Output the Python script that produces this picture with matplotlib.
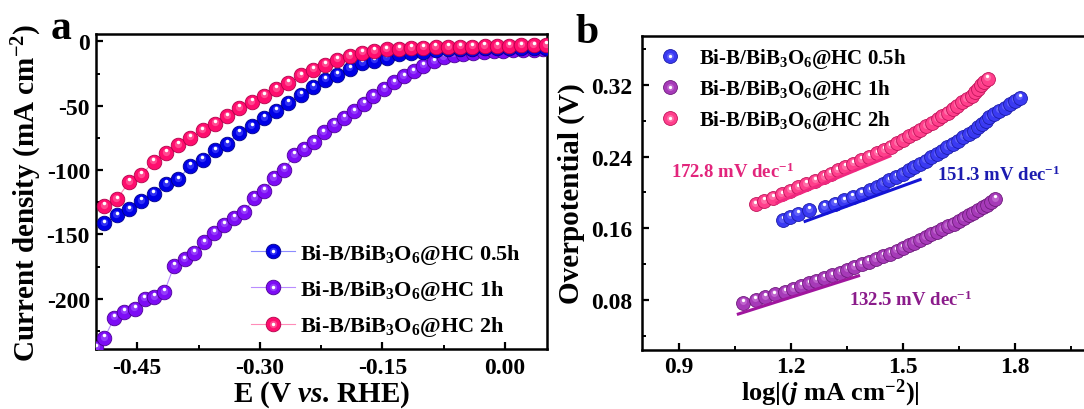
import matplotlib
matplotlib.use("Agg")
import matplotlib.pyplot as plt
from matplotlib.lines import Line2D
from matplotlib.transforms import offset_copy
from matplotlib.ticker import MultipleLocator, FormatStrFormatter
from matplotlib.legend_handler import HandlerTuple

plt.rcParams['font.family'] = ['Liberation Serif', 'DejaVu Serif']
plt.rcParams['font.weight'] = 'bold'
plt.rcParams['axes.unicode_minus'] = False
plt.rcParams['mathtext.fontset'] = 'custom'
plt.rcParams['mathtext.rm'] = 'Liberation Serif:bold'
plt.rcParams['mathtext.it'] = 'Liberation Serif:italic:bold'
plt.rcParams['mathtext.bf'] = 'Liberation Serif:bold'

labels = ['Bi-B/BiB$_3$O$_6$@HC 0.5h', 'Bi-B/BiB$_3$O$_6$@HC 1h', 'Bi-B/BiB$_3$O$_6$@HC 2h']

# ---- LSV (panel a) ----
E_grid = [-0.490, -0.475, -0.460, -0.445, -0.430, -0.415, -0.400, -0.385, -0.370, -0.355,
          -0.340, -0.325, -0.310, -0.295, -0.280, -0.265, -0.250, -0.235, -0.220, -0.205,
          -0.190, -0.175, -0.160, -0.145, -0.130, -0.115, -0.100, -0.085, -0.070, -0.055,
          -0.040, -0.025, -0.010, 0.005, 0.020, 0.035, 0.050]
j_05 = [-141.4, -135.2, -130.5, -124.0, -118.3, -111.0, -107.2, -96.8, -92.0, -84.7,
        -79.8, -71.3, -66.1, -59.6, -53.9, -47.9, -41.5, -35.5, -29.8, -25.9,
        -21.2, -16.8, -15.0, -13.0, -9.8, -9.0, -8.0, -7.0, -6.3, -6.0,
        -5.7, -5.5, -5.3, -5.1, -5.0, -4.9, -4.8]
j_2 = [-127.9, -122.7, -109.3, -104.0, -93.4, -86.9, -80.7, -74.7, -69.2, -64.0,
       -58.3, -51.8, -47.2, -42.2, -37.1, -32.4, -26.5, -22.0, -18.0, -14.2,
       -11.4, -8.8, -7.5, -6.3, -5.7, -5.2, -4.9, -4.6, -4.4, -4.2,
       -4.0, -3.8, -3.6, -3.4, -3.2, -3.1, -3.0]
E_1 = [-0.500, -0.490, -0.478, -0.466, -0.453, -0.441, -0.429, -0.417, -0.405, -0.392,
       -0.380, -0.368, -0.356, -0.344, -0.331, -0.319, -0.307, -0.295, -0.283, -0.270,
       -0.258, -0.246, -0.234, -0.222, -0.209, -0.197, -0.185, -0.173, -0.161, -0.148,
       -0.136, -0.124, -0.112, -0.100, -0.087, -0.075, -0.063, -0.051, -0.039, -0.026,
       -0.014, -0.002, 0.010, 0.022, 0.035, 0.047]
j_1 = [-238.0, -230.4, -214.8, -210.1, -207.8, -200.0, -198.8, -194.9, -174.6, -169.4,
       -164.2, -156.2, -148.5, -142.5, -137.3, -132.4, -121.8, -116.1, -106.2, -99.8,
       -88.4, -83.7, -78.5, -70.7, -64.8, -59.6, -54.4, -48.5, -42.8, -37.1,
       -31.9, -27.2, -23.3, -18.9, -15.5, -12.2, -10.4, -9.5, -8.8, -8.2,
       -7.7, -7.3, -7.0, -6.7, -6.4, -6.2]

# ---- Tafel (panel b) ----
logj_05 = [1.178, 1.198, 1.218, 1.248, 1.290, 1.317, 1.342, 1.365, 1.389, 1.413,
           1.431, 1.447, 1.464, 1.482, 1.500, 1.516, 1.531, 1.547, 1.561, 1.576,
           1.591, 1.605, 1.619, 1.633, 1.647, 1.662, 1.677, 1.690, 1.701, 1.712,
           1.722, 1.732, 1.744, 1.758, 1.773, 1.787, 1.800, 1.813]
eta_05 = [0.1690, 0.1727, 0.1764, 0.1801, 0.1838, 0.1875, 0.1912, 0.1949, 0.1986, 0.2023,
          0.2060, 0.2097, 0.2134, 0.2171, 0.2208, 0.2245, 0.2282, 0.2319, 0.2356, 0.2393,
          0.2430, 0.2467, 0.2504, 0.2541, 0.2578, 0.2615, 0.2652, 0.2689, 0.2726, 0.2763,
          0.2800, 0.2837, 0.2874, 0.2911, 0.2948, 0.2985, 0.3022, 0.3059]
logj_1 = [1.072, 1.105, 1.130, 1.156, 1.185, 1.206, 1.227, 1.248, 1.268, 1.289,
          1.310, 1.331, 1.350, 1.369, 1.389, 1.408, 1.427, 1.447, 1.466, 1.483,
          1.499, 1.515, 1.531, 1.545, 1.561, 1.575, 1.590, 1.606, 1.620, 1.636,
          1.650, 1.663, 1.677, 1.689, 1.702, 1.714, 1.725, 1.737, 1.748]
eta_1 = [0.0770, 0.0800, 0.0831, 0.0861, 0.0892, 0.0922, 0.0952, 0.0983, 0.1013, 0.1044,
         0.1074, 0.1104, 0.1135, 0.1165, 0.1196, 0.1226, 0.1256, 0.1287, 0.1317, 0.1348,
         0.1378, 0.1408, 0.1439, 0.1469, 0.1500, 0.1530, 0.1560, 0.1591, 0.1621, 0.1652,
         0.1682, 0.1712, 0.1743, 0.1773, 0.1804, 0.1834, 0.1864, 0.1895, 0.1925]
logj_2 = [1.105, 1.128, 1.151, 1.175, 1.198, 1.219, 1.241, 1.265, 1.288, 1.306,
          1.325, 1.346, 1.367, 1.388, 1.410, 1.430, 1.449, 1.467, 1.484, 1.500,
          1.516, 1.532, 1.547, 1.563, 1.578, 1.593, 1.606, 1.620, 1.633, 1.646,
          1.659, 1.671, 1.684, 1.693, 1.701, 1.709, 1.718, 1.727]
eta_2 = [0.1865, 0.1903, 0.1941, 0.1979, 0.2017, 0.2055, 0.2093, 0.2131, 0.2169, 0.2207,
         0.2245, 0.2283, 0.2321, 0.2359, 0.2397, 0.2435, 0.2473, 0.2511, 0.2549, 0.2587,
         0.2625, 0.2663, 0.2701, 0.2739, 0.2777, 0.2815, 0.2853, 0.2891, 0.2929, 0.2967,
         0.3005, 0.3043, 0.3081, 0.3119, 0.3157, 0.3195, 0.3233, 0.3271]

# Tafel slopes (mV/dec) and the log|j| window / mid overpotential of each fit
tafel_slopes = [151.3, 132.5, 172.8]
fit_windows = [(1.234, 1.550), (1.055, 1.385), (1.159, 1.469)]
fit_mid_eta = [0.191, 0.0855, 0.2145]


def spheres(ax, xs, ys, base, edge, glow, ms, z):
    # shaded ball markers: body, soft glow and a small white highlight
    fig = ax.figure
    sh1 = offset_copy(ax.transData, fig=fig, x=-0.2, y=1.0, units='points')
    sh2 = offset_copy(ax.transData, fig=fig, x=-0.1, y=2.0, units='points')
    for x, y in zip(xs, ys):
        ax.plot([x], [y], 'o', ms=ms, mfc=base, mec=edge, mew=0.6, zorder=z)
        ax.plot([x], [y], 'o', ms=ms * 0.5, mfc=glow, mec='none', alpha=0.6,
                transform=sh1, zorder=z)
        ax.plot([x], [y], 'o', ms=ms * 0.24, mfc='white', mec='none',
                transform=sh2, zorder=z)


def ball_handle(base, edge, glow, ms, line=None):
    body = Line2D([], [], color=line or 'none', lw=0.8 if line else 0,
                  marker='o', ms=ms, mfc=base, mec=edge, mew=0.6)
    mid = Line2D([], [], ls='none', marker='o', ms=ms * 0.5, mfc=glow, mec='none', alpha=0.6)
    top = Line2D([], [], ls='none', marker='o', ms=ms * 0.24, mfc='white', mec='none')
    return (body, mid, top)


def style_axes(ax):
    for s in ax.spines.values():
        s.set_linewidth(1.8)
    ax.tick_params(which='both', direction='in', top=False, right=False,
                   labelsize=17)
    ax.tick_params(which='major', length=5, width=1.6)
    ax.tick_params(which='minor', length=3, width=1.4)


fig = plt.figure(figsize=(10.84, 4.10), dpi=100)

# ---------------- panel a ----------------
ax1 = fig.add_axes([0.0881, 0.1463, 0.4163, 0.7683])
cols_a = {'05': ('#0000e6', '#00008a', '#4d4dff', '#8c8cff'),
          '1': ('#7d0cf5', '#4b0096', '#a55cff', '#b98cff'),
          '2': ('#ff0d6e', '#b3004a', '#ff6fa6', '#ff8cb8')}
ms_a = 10.5

for key, E, j in [('1', E_1, j_1), ('05', E_grid, j_05), ('2', E_grid, j_2)]:
    base, edge, glow, line = cols_a[key]
    ax1.plot(E, j, '-', color=line, lw=0.8, zorder=2)
    spheres(ax1, E, j, base, edge, glow, ms_a, 3)

ax1.set_xlim(-0.501, 0.051)
ax1.set_ylim(-239, 5.7)
ax1.xaxis.set_major_locator(MultipleLocator(0.15))
ax1.xaxis.set_minor_locator(MultipleLocator(0.075))
ax1.yaxis.set_major_locator(MultipleLocator(50))
ax1.yaxis.set_minor_locator(MultipleLocator(25))
ax1.xaxis.set_major_formatter(FormatStrFormatter('%.2f'))
style_axes(ax1)
ax1.tick_params(axis='y', pad=4)
ax1.tick_params(axis='x', pad=6)
ax1.set_xlabel('E (V $\\mathit{vs}$. RHE)', fontsize=21, fontweight='bold', labelpad=0)
ax1.set_ylabel('Current density (mA cm$^{-2}$)', fontsize=21, fontweight='bold', labelpad=2)

handles_a = [ball_handle(*cols_a[k][:3], ms_a, line=cols_a[k][3]) for k in ['05', '1', '2']]
ax1.legend(handles_a, labels, handler_map={tuple: HandlerTuple(ndivide=1, pad=0)},
           loc='center left', bbox_to_anchor=(0.345, 0.187), frameon=False,
           fontsize=16, handlelength=1.95, handletextpad=0.25, labelspacing=0.55,
           borderpad=0, borderaxespad=0)

fig.text(0.047, 0.905, 'a', fontsize=30, fontweight='bold', va='baseline')

# ---------------- panel b ----------------
ax2 = fig.add_axes([0.592, 0.1439, 0.4234, 0.7666])
cols_b = {'05': ('#3a3af2', '#1c1ca8', '#7878ff'),
          '1': ('#a63ab8', '#6e1a7c', '#cf7fdc'),
          '2': ('#ff3f8c', '#c0145a', '#ff8fba')}
fit_cols = {'05': '#1414d6', '1': '#a0169e', '2': '#f0287f'}
text_cols = {'05': '#1c1cb0', '1': '#8b1c8b', '2': '#e2257c'}
ms_b = 10.0

for key, lx, ey in [('1', logj_1, eta_1), ('05', logj_05, eta_05), ('2', logj_2, eta_2)]:
    base, edge, glow = cols_b[key]
    spheres(ax2, lx, ey, base, edge, glow, ms_b, 3)

for key, slope, (x0, x1), ym in zip(['05', '1', '2'], tafel_slopes, fit_windows, fit_mid_eta):
    xm = 0.5 * (x0 + x1)
    k = slope / 1000.0
    ax2.plot([x0, x1], [ym + k * (x0 - xm), ym + k * (x1 - xm)], '-',
             color=fit_cols[key], lw=2.2, solid_capstyle='butt', zorder=5)

ax2.text(0.878, 0.224, '172.8 mV dec$^{-1}$', color=text_cols['2'], fontsize=13.5,
         fontweight='bold', va='center', ha='left')
ax2.text(1.591, 0.220, '151.3 mV dec$^{-1}$', color=text_cols['05'], fontsize=13.5,
         fontweight='bold', va='center', ha='left')
ax2.text(1.355, 0.0807, '132.5 mV dec$^{-1}$', color=text_cols['1'], fontsize=13.5,
         fontweight='bold', va='center', ha='left')

# the frame runs on past the right edge of the figure
ax2.set_xlim(0.8, 2.03)
ax2.set_ylim(0.024, 0.375)
ax2.xaxis.set_major_locator(MultipleLocator(0.3))
ax2.xaxis.set_minor_locator(MultipleLocator(0.15))
ax2.yaxis.set_major_locator(MultipleLocator(0.08))
ax2.yaxis.set_minor_locator(MultipleLocator(0.04))
ax2.xaxis.set_major_formatter(FormatStrFormatter('%.1f'))
ax2.yaxis.set_major_formatter(FormatStrFormatter('%.2f'))
style_axes(ax2)
ax2.tick_params(axis='y', pad=7)
ax2.tick_params(axis='x', pad=4)
ax2.set_xlabel('log|($\\mathit{j}$ mA cm$^{-2}$)|', fontsize=19, fontweight='bold',
               labelpad=0, va='bottom')
ax2.xaxis.set_label_coords(0.41, -0.185)
ax2.set_ylabel('Overpotential (V)', fontsize=21, fontweight='bold', labelpad=4)

handles_b = [ball_handle(*cols_b[k], ms_b) for k in ['05', '1', '2']]
ax2.legend(handles_b, labels, handler_map={tuple: HandlerTuple(ndivide=1, pad=0)},
           loc='center left', bbox_to_anchor=(0.038, 0.83), frameon=False,
           fontsize=15, handlelength=1.0, handletextpad=0.9, labelspacing=0.35,
           borderpad=0, borderaxespad=0)

fig.text(0.531, 0.895, 'b', fontsize=30, fontweight='bold', va='baseline')

fig.savefig('out.png', dpi=100)
